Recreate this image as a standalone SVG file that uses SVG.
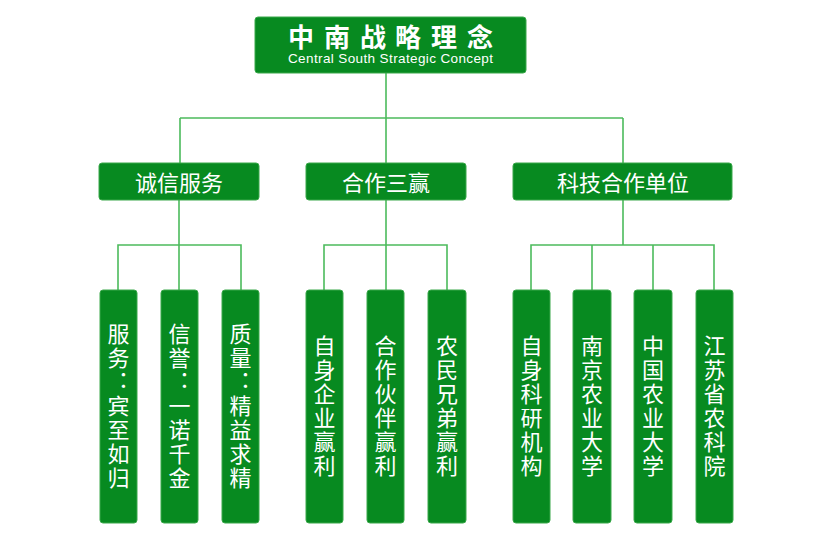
<svg xmlns="http://www.w3.org/2000/svg" width="834" height="545" viewBox="0 0 834 545">
<style>
.box{fill:#078a20;stroke:#3aa84a;stroke-width:1}
.ln{stroke:#4cbb5c;stroke-width:1.6;fill:none}
.t{fill:#ffffff;font-family:"Noto Sans CJK SC","Noto Sans",sans-serif;font-size:22px;text-anchor:middle}
.v{fill:#ffffff;font-family:"Noto Sans CJK SC",sans-serif;font-size:22px;writing-mode:vertical-rl;text-orientation:upright;letter-spacing:2px}
.ttl{fill:#ffffff;font-family:"Noto Sans CJK SC",sans-serif;font-size:26px;font-weight:bold;text-anchor:middle}
.sub{fill:#ffffff;font-family:"Liberation Sans",Arial,sans-serif;font-size:13.5px;text-anchor:middle}
</style>
<rect width="834" height="545" fill="#ffffff"/>
<g id="connectors">
<path class="ln" d="M386,73 V118 M180,118 H623 M180,118 V163 M386,118 V163 M623,118 V163"/>
<path class="ln" d="M179,200 V290 M118,290 V245 H241 V290"/>
<path class="ln" d="M386,200 V290 M324,290 V245 H447 V290"/>
<path class="ln" d="M623,200 V245 M531,290 V245 H714 V290 M592,245 V290 M653,245 V290"/>
</g>
<g id="root">
<rect class="box" x="255" y="17" width="271" height="56" rx="3"/>
<text class="ttl" y="47"><tspan x="301">中</tspan><tspan x="337">南</tspan><tspan x="373">战</tspan><tspan x="408">略</tspan><tspan x="444">理</tspan><tspan x="480">念</tspan></text>
<text class="sub" x="390.5" y="63" textLength="205">Central South Strategic Concept</text>
</g>
<g id="mid1"><rect class="box" x="99" y="163" width="160" height="37" rx="3"/><text class="t" x="179" y="191">诚信服务</text></g>
<g id="mid2"><rect class="box" x="306" y="163" width="160" height="37" rx="3"/><text class="t" x="386" y="191">合作三赢</text></g>
<g id="mid3"><rect class="box" x="513" y="163" width="219" height="37" rx="3"/><text class="t" x="623" y="191">科技合作单位</text></g>

<g id="leaf1"><rect class="box" x="100" y="290" width="37" height="233" rx="3"/><text class="v" x="118.5" y="323">服务：宾至如归</text></g>
<g id="leaf2"><rect class="box" x="161" y="290" width="37" height="233" rx="3"/><text class="v" x="179.5" y="323">信誉：一诺千金</text></g>
<g id="leaf3"><rect class="box" x="222" y="290" width="37" height="233" rx="3"/><text class="v" x="240.5" y="323">质量：精益求精</text></g>

<g id="leaf4"><rect class="box" x="306" y="290" width="37" height="233" rx="3"/><text class="v" x="324.5" y="335">自身企业赢利</text></g>
<g id="leaf5"><rect class="box" x="367" y="290" width="37" height="233" rx="3"/><text class="v" x="385.5" y="335">合作伙伴赢利</text></g>
<g id="leaf6"><rect class="box" x="428" y="290" width="38" height="233" rx="3"/><text class="v" x="447" y="335">农民兄弟赢利</text></g>

<g id="leaf7"><rect class="box" x="513" y="290" width="37" height="233" rx="3"/><text class="v" x="531.5" y="335">自身科研机构</text></g>
<g id="leaf8"><rect class="box" x="573" y="290" width="38" height="233" rx="3"/><text class="v" x="592" y="335">南京农业大学</text></g>
<g id="leaf9"><rect class="box" x="634" y="290" width="38" height="233" rx="3"/><text class="v" x="653" y="335">中国农业大学</text></g>
<g id="leaf10"><rect class="box" x="696" y="290" width="37" height="233" rx="3"/><text class="v" x="714.5" y="335">江苏省农科院</text></g>
</svg>
